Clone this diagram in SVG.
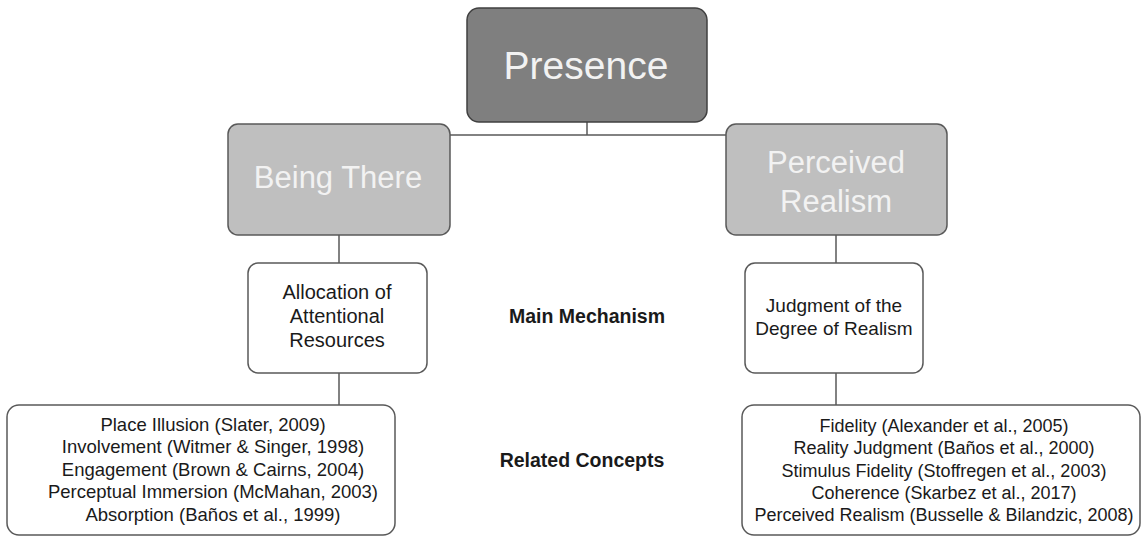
<svg xmlns="http://www.w3.org/2000/svg" width="1148" height="536" viewBox="0 0 1148 536">
<style>
.dark{fill:#7f7f7f;stroke:#404040;stroke-width:1.5}
.mid{fill:#bfbfbf;stroke:#595959;stroke-width:1.5}
.wbox{fill:#ffffff;stroke:#595959;stroke-width:1.5}
.conn line{stroke:#595959;stroke-width:1.5}
text{font-family:"Liberation Sans",Arial,sans-serif;text-anchor:middle}
.lt{fill:#f2f2f2}
.bk{fill:#1a1a1a}
.lbl{font-weight:bold;font-size:19.5px;fill:#1a1a1a}
</style>
<rect width="1148" height="536" fill="#ffffff"/>
<g id="connectors" class="conn">
<line x1="587" y1="122" x2="587" y2="135"/>
<line x1="450" y1="135" x2="726" y2="135"/>
<line x1="339" y1="235" x2="339" y2="263"/>
<line x1="339" y1="373" x2="339" y2="405"/>
<line x1="836" y1="235" x2="836" y2="263"/>
<line x1="836" y1="373" x2="836" y2="405"/>
</g>
<g id="presence">
<rect class="dark" x="467" y="8" width="240" height="114" rx="12"/>
<text class="lt" x="586" y="79" font-size="39">Presence</text>
</g>
<g id="being-there">
<rect class="mid" x="228" y="124" width="222" height="111" rx="10"/>
<text class="lt" x="338" y="188" font-size="31">Being There</text>
</g>
<g id="perceived-realism">
<rect class="mid" x="726" y="124" width="221" height="111" rx="10"/>
<text class="lt" x="836" y="173" font-size="31">Perceived</text>
<text class="lt" x="836" y="212" font-size="31">Realism</text>
</g>
<g id="allocation">
<rect class="wbox" x="248" y="263" width="179" height="110" rx="10"/>
<text class="bk" x="337" y="299" font-size="20">Allocation of</text>
<text class="bk" x="337" y="323" font-size="20">Attentional</text>
<text class="bk" x="337" y="347" font-size="20">Resources</text>
</g>
<g id="judgment">
<rect class="wbox" x="745" y="263" width="178" height="110" rx="10"/>
<text class="bk" x="834" y="312" font-size="19">Judgment of the</text>
<text class="bk" x="834" y="335" font-size="19">Degree of Realism</text>
</g>
<g id="main-mechanism">
<text class="lbl" x="587" y="323">Main Mechanism</text>
</g>
<g id="related-concepts">
<text class="lbl" x="582" y="467">Related Concepts</text>
</g>
<g id="left-concepts">
<rect class="wbox" x="7" y="405" width="388" height="130" rx="12"/>
<text class="bk" x="213" y="431" font-size="18.5">Place Illusion (Slater, 2009)</text>
<text class="bk" x="213" y="453" font-size="18.5">Involvement (Witmer &amp; Singer, 1998)</text>
<text class="bk" x="213" y="476" font-size="18.5">Engagement (Brown &amp; Cairns, 2004)</text>
<text class="bk" x="213" y="498" font-size="18.5">Perceptual Immersion (McMahan, 2003)</text>
<text class="bk" x="213" y="521" font-size="18.5">Absorption (Baños et al., 1999)</text>
</g>
<g id="right-concepts">
<rect class="wbox" x="742" y="405" width="398" height="130" rx="12"/>
<text class="bk" x="944" y="432" font-size="18">Fidelity (Alexander et al., 2005)</text>
<text class="bk" x="944" y="454" font-size="18">Reality Judgment (Baños et al., 2000)</text>
<text class="bk" x="944" y="477" font-size="18">Stimulus Fidelity (Stoffregen et al., 2003)</text>
<text class="bk" x="944" y="499" font-size="18">Coherence (Skarbez et al., 2017)</text>
<text class="bk" x="944" y="521" font-size="18">Perceived Realism (Busselle &amp; Bilandzic, 2008)</text>
</g>
</svg>
